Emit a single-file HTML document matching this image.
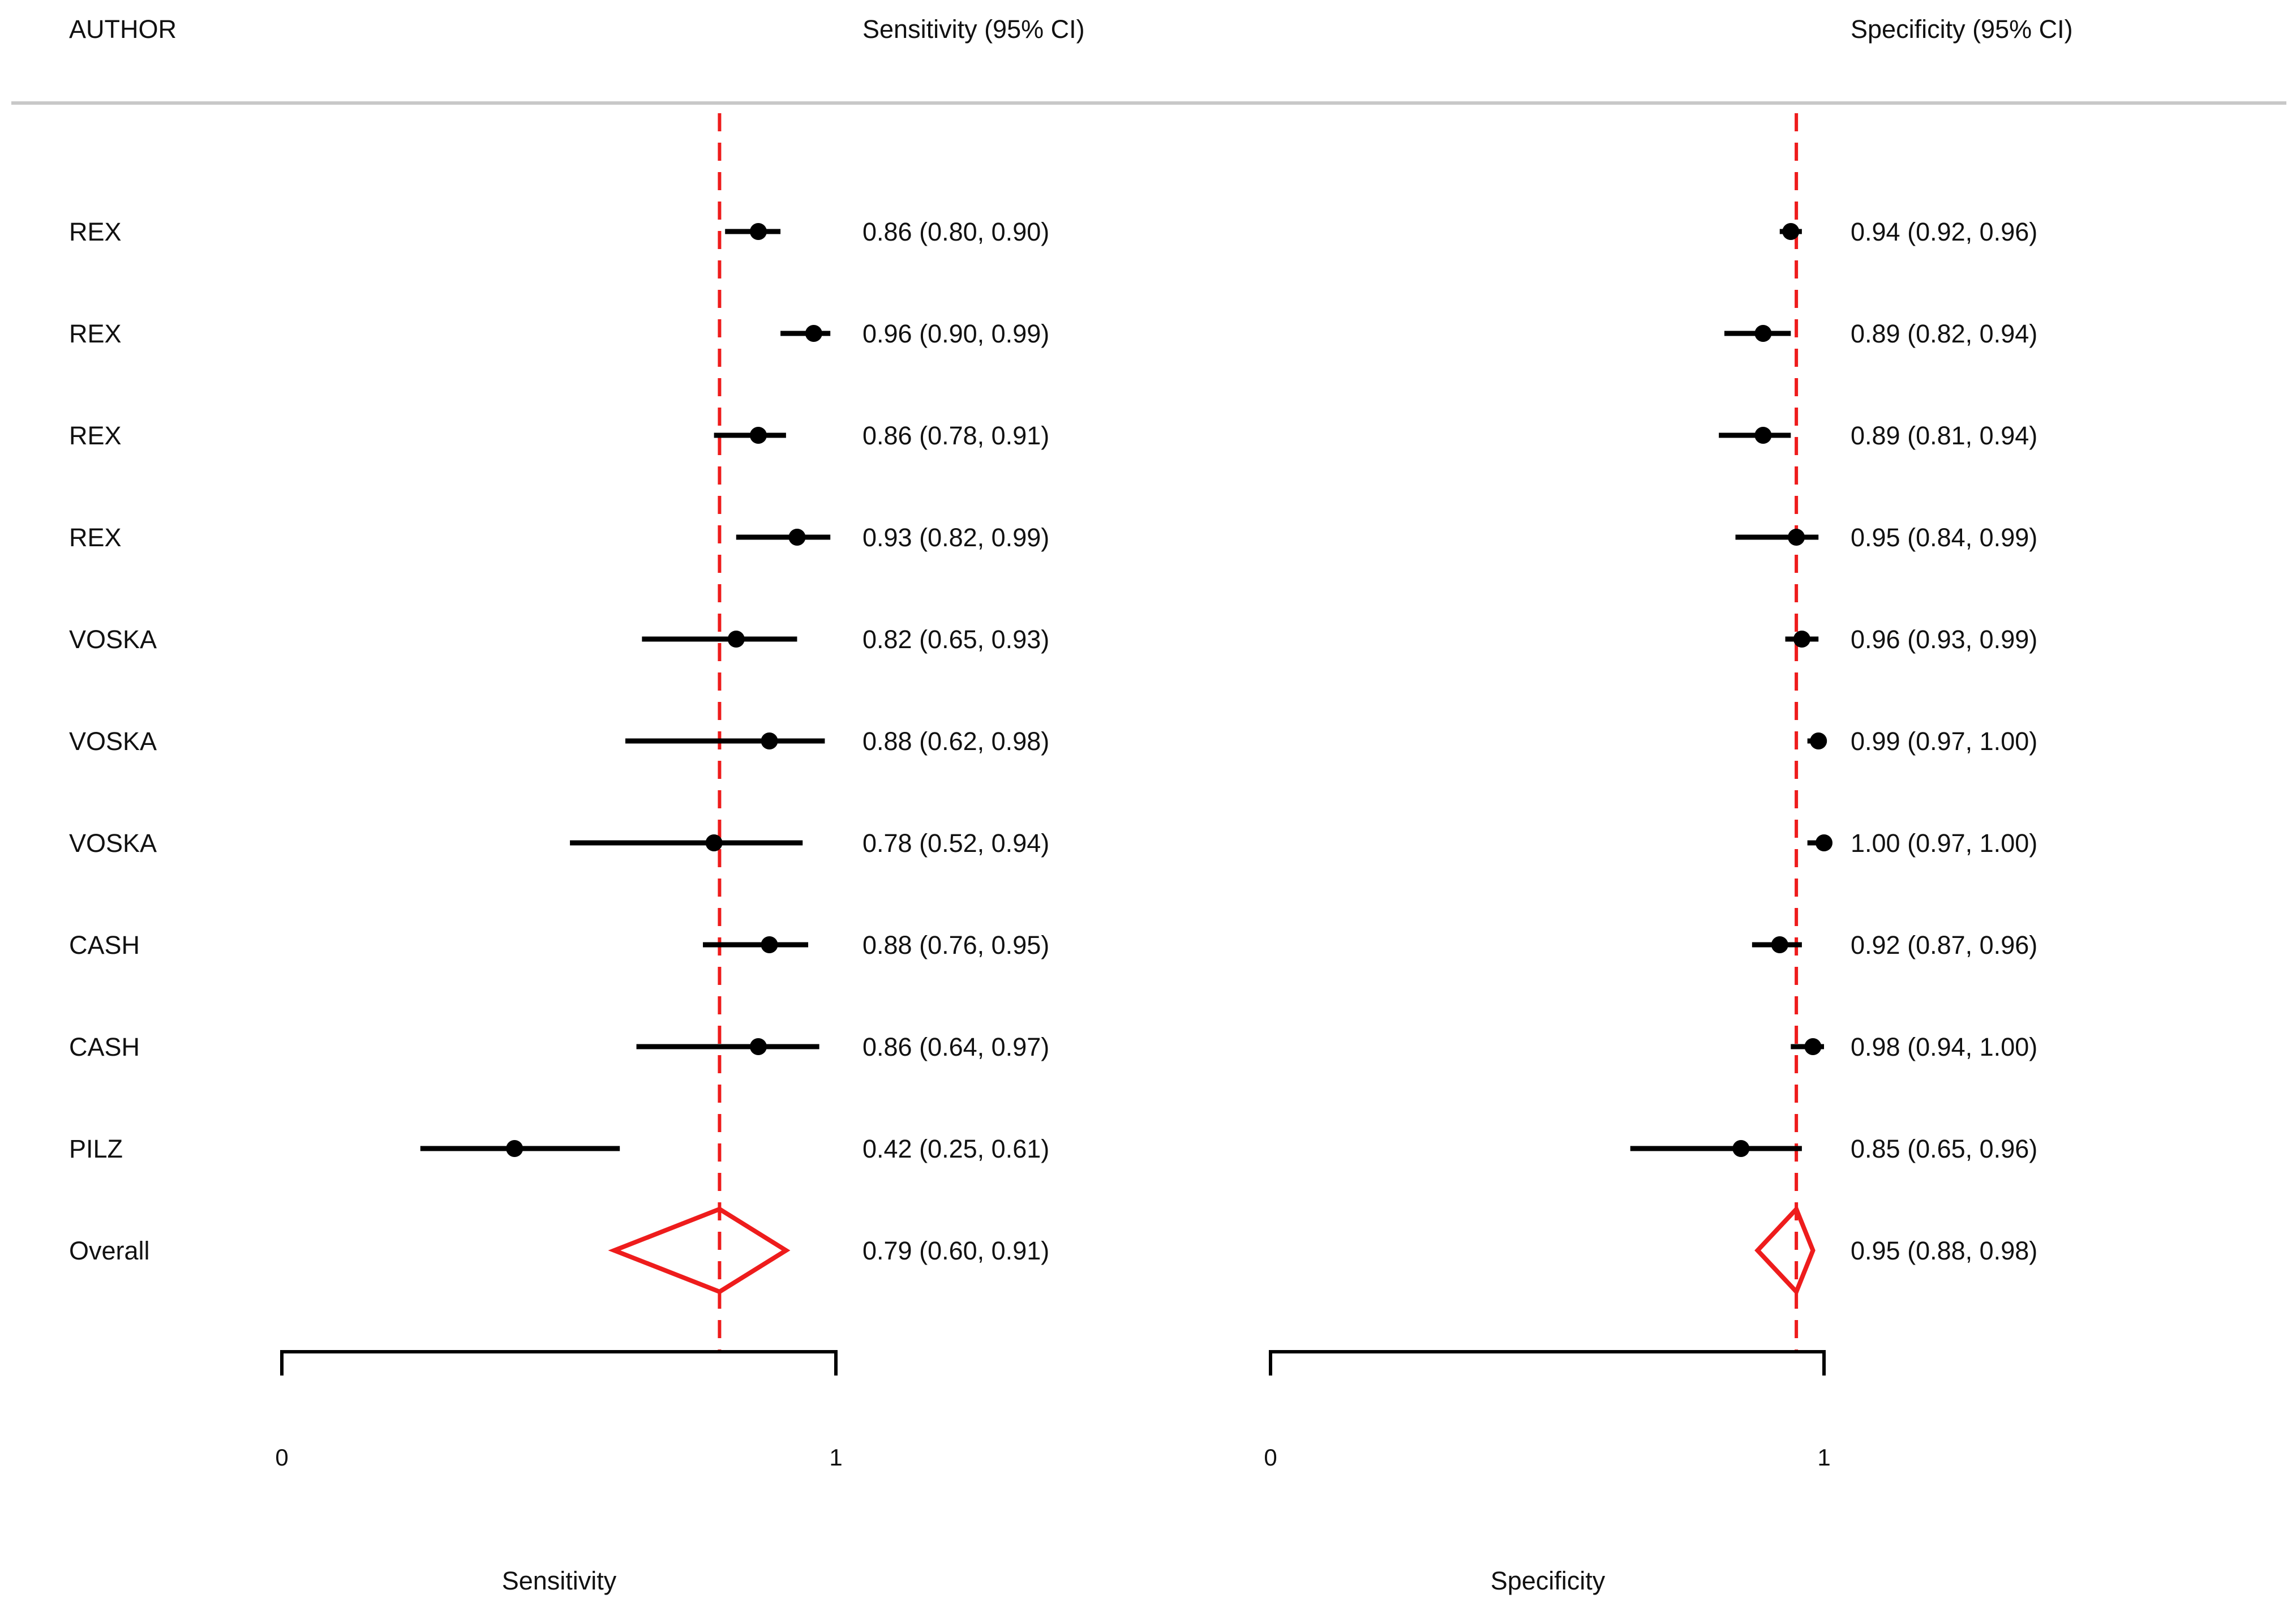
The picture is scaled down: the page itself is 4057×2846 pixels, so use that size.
<!DOCTYPE html>
<html><head><meta charset="utf-8"><style>
html,body{margin:0;padding:0;background:#fff}
svg{display:block}
text{font-family:"Liberation Sans",Arial,sans-serif;fill:#111}
</style></head><body>
<svg id="chart" width="4057" height="2846" viewBox="0 0 4057 2846" xmlns="http://www.w3.org/2000/svg">
<text x="122" y="67" font-size="45">AUTHOR</text>
<text x="1524" y="67" font-size="45">Sensitivity (95% CI)</text>
<text x="3270" y="67" font-size="45">Specificity (95% CI)</text>
<line x1="20" y1="182" x2="4040" y2="182" stroke="#c8c8c8" stroke-width="6"/>
<g id="plot"></g>
</svg>
<script>
const authors = ["REX","REX","REX","REX","VOSKA","VOSKA","VOSKA","CASH","CASH","PILZ"];
const sensEst = [0.86,0.96,0.86,0.93,0.82,0.88,0.78,0.88,0.86,0.42];
const sensLo  = [0.80,0.90,0.78,0.82,0.65,0.62,0.52,0.76,0.64,0.25];
const sensHi  = [0.90,0.99,0.91,0.99,0.93,0.98,0.94,0.95,0.97,0.61];
const specEst = [0.94,0.89,0.89,0.95,0.96,0.99,1.00,0.92,0.98,0.85];
const specLo  = [0.92,0.82,0.81,0.84,0.93,0.97,0.97,0.87,0.94,0.65];
const specHi  = [0.96,0.94,0.94,0.99,0.99,1.00,1.00,0.96,1.00,0.96];
const sensOverall = [0.79,0.60,0.91];
const specOverall = [0.95,0.88,0.98];
const tickLabels = ["0","1"];

const NS="http://www.w3.org/2000/svg";
const g=document.getElementById('plot');
function mk(tag,attrs,parent){const e=document.createElementNS(NS,tag);for(const k in attrs)e.setAttribute(k,attrs[k]);(parent||g).appendChild(e);return e;}
const xSens=v=>498+v*979;
const xSpec=v=>2245+v*978;
const yRow=i=>409+i*180;
const fmt=v=>v.toFixed(2);

authors.concat(["Overall"]).forEach((a,i)=>{
  const t=mk('text',{x:122,y:yRow(i)+16,'font-size':45});
  
  
  t.textContent=a;
});

function panel(xf,est,lo,hi,ov,txtX,name,title,titleX){
  const r=mk('line',{x1:xf(ov[0]),x2:xf(ov[0]),y1:200,y2:2385,stroke:'#ee1c1c','stroke-width':6,'stroke-dasharray':'32 20'});
  
  
  est.forEach((v,i)=>{
    const l=mk('line',{x1:xf(lo[i]),x2:xf(hi[i]),y1:yRow(i),y2:yRow(i),stroke:'#000','stroke-width':9});
    
    
    const c=mk('ellipse',{cx:xf(v),cy:yRow(i),rx:15,ry:15,fill:'#000'});
    
    
    const t=mk('text',{x:txtX,y:yRow(i)+16,'font-size':45});
    
    
    t.textContent=fmt(v)+" ("+fmt(lo[i])+", "+fmt(hi[i])+")";
  });
  const yo=yRow(10);
  const d=mk('polygon',{points:`${xf(ov[1])},${yo} ${xf(ov[0])},${yo-73} ${xf(ov[2])},${yo} ${xf(ov[0])},${yo+73}`,fill:'none',stroke:'#ee1c1c','stroke-width':8});
  
  
  const t=mk('text',{x:txtX,y:yo+16,'font-size':45});
  
  
  t.textContent=fmt(ov[0])+" ("+fmt(ov[1])+", "+fmt(ov[2])+")";
  const ax=mk('path',{d:`M${xf(0)},2430 L${xf(0)},2388 L${xf(1)},2388 L${xf(1)},2430`,fill:'none',stroke:'#000','stroke-width':6});
  
  
  tickLabels.forEach((tl,k)=>{
    const tt=mk('text',{x:xf(k),y:2589,'font-size':42,'text-anchor':'middle'});
    
    
    tt.textContent=tl;
  });
  const ti=mk('text',{x:titleX,y:2808,'font-size':45,'text-anchor':'middle'});
  
  
  ti.textContent=title;
}
panel(xSens,sensEst,sensLo,sensHi,sensOverall,1524,'sensitivity','Sensitivity',988);
panel(xSpec,specEst,specLo,specHi,specOverall,3270,'specificity','Specificity',2735);
</script>
</body></html>
